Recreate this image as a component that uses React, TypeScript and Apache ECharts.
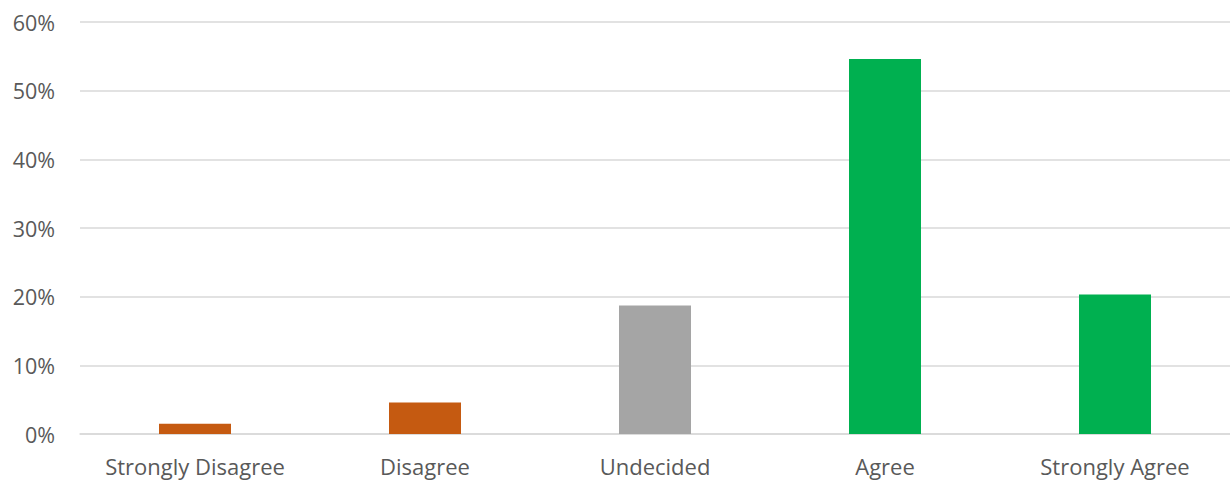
import React, { useEffect, useRef } from "react";
import * as echarts from "echarts";

const categories = ["Strongly Disagree", "Disagree", "Undecided", "Agree", "Strongly Agree"];
const values = [1.5, 4.6, 18.7, 54.6, 20.3];
const barColors = ["#C55A11", "#C55A11", "#A5A5A5", "#00B050", "#00B050"];

export default function App() {
  const ref = useRef<HTMLDivElement>(null);
  useEffect(() => {
    if (!ref.current) return;
    const chart = echarts.init(ref.current, undefined, { renderer: "svg" });
    chart.setOption({
      animation: false,
      grid: { left: 80, right: 0, top: 22, bottom: 46, containLabel: false },
      xAxis: {
        type: "category",
        data: categories,
        axisLine: { show: true, lineStyle: { color: "#D9D9D9", width: 1.5 } },
        axisTick: { show: false },
        axisLabel: {
          color: "#595959",
          fontSize: 22,
          fontFamily: "Open Sans",
          margin: 21,
          interval: 0,
          hideOverlap: false,
        },
      },
      yAxis: {
        type: "value",
        min: 0,
        max: 60,
        interval: 10,
        axisLine: { show: false },
        axisTick: { show: false },
        splitLine: { lineStyle: { color: "#D9D9D9", width: 1.5 } },
        axisLabel: {
          color: "#595959",
          fontSize: 21.5,
          fontFamily: "Open Sans",
          margin: 25,
          formatter: "{value}%",
        },
      },
      series: [
        {
          type: "bar",
          barWidth: 72,
          data: values.map((v, i) => ({ value: v, itemStyle: { color: barColors[i] } })),
        },
      ],
    });
    return () => chart.dispose();
  }, []);
  return (
    <div
      ref={ref}
      style={{ position: "absolute", left: 0, top: 0, width: 1230, height: 480, background: "#fff" }}
    />
  );
}
